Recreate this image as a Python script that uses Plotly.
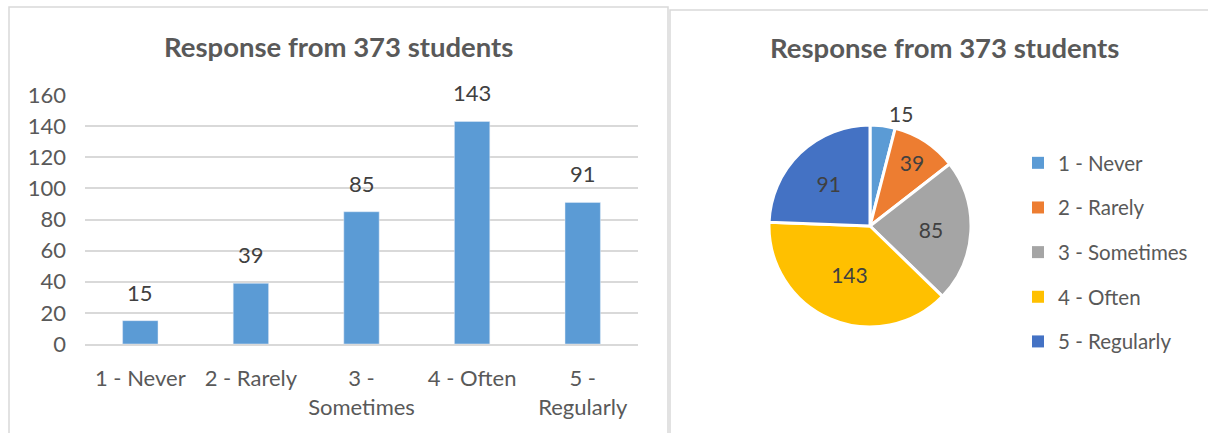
import plotly.graph_objects as go

categories = ["1 - Never", "2 - Rarely", "3 - Sometimes", "4 - Often", "5 - Regularly"]
tick_labels = ["1 - Never", "2 - Rarely", "3 -<br>Sometimes", "4 - Often", "5 -<br>Regularly"]
values = [15, 39, 85, 143, 91]
pie_colors = ["#5B9BD5", "#ED7D31", "#A5A5A5", "#FFC000", "#4472C4"]
bar_color = "#5B9BD5"
title_text = "Response from 373 students"
y_ticks = [0, 20, 40, 60, 80, 100, 120, 140, 160]

W, H = 1208, 433
FONT = "Lato"
TXT = "#595959"

def px(x):
    return x / W

def py(y):
    return 1 - y / H

fig = go.Figure()

fig.add_trace(go.Bar(
    x=categories, y=values, marker_color=bar_color, showlegend=False,
    xaxis="x", yaxis="y", hoverinfo="x+y",
))

for c, v in zip(categories, values):
    fig.add_annotation(x=c, y=v, xref="x", yref="y", text=str(v), showarrow=False,
                       xanchor="center", yanchor="bottom", yshift=13,
                       font=dict(family=FONT, size=22, color="#404040"))

fig.add_trace(go.Pie(
    labels=categories, values=values, sort=False, direction="clockwise", rotation=0,
    marker=dict(colors=pie_colors, line=dict(color="white", width=3)),
    textinfo="value", textposition=["outside", "inside", "inside", "inside", "inside"],
    insidetextorientation="horizontal",
    textfont=dict(family=FONT, size=21, color="#404040"),
    domain=dict(x=[px(768), px(972)], y=[py(327), py(125)]),
    showlegend=False,
))

# legend entries
for c, col in zip(categories, pie_colors):
    fig.add_trace(go.Scatter(
        x=[None], y=[None], mode="markers", name=c, legendgroup=c,
        marker=dict(symbol="square", size=9, color=col),
        xaxis="x", yaxis="y", showlegend=True,
    ))

fig.update_layout(
    width=W, height=H, margin=dict(l=0, r=0, t=0, b=0, autoexpand=False),
    paper_bgcolor="white", plot_bgcolor="white",
    font=dict(family=FONT, color=TXT),
    bargap=0.68,
    xaxis=dict(domain=[px(85), px(638)], tickmode="array", tickvals=categories,
               ticktext=tick_labels, tickfont=dict(size=22, color=TXT), showgrid=False,
               showline=True, linecolor="#D9D9D9", linewidth=1.5, ticks="",
               ticklabelstandoff=14, fixedrange=True, automargin=False),
    yaxis=dict(domain=[py(344), py(95)], range=[0, 160], tickvals=y_ticks,
               tickfont=dict(size=22, color=TXT), showgrid=True, gridcolor="#D9D9D9",
               gridwidth=1.5, zeroline=False, showline=False, ticks="",
               ticklabelstandoff=18, fixedrange=True, automargin=False),
    legend=dict(x=px(1018), y=py(143), xanchor="left", yanchor="top",
                font=dict(family=FONT, size=20.5, color=TXT), traceorder="grouped",
                tracegroupgap=15, itemsizing="constant", bgcolor="rgba(0,0,0,0)"),
    showlegend=True,
)

fig.add_annotation(text="<b>" + title_text + "</b>", x=px(338), y=py(46), xref="paper", yref="paper",
                   xanchor="center", yanchor="middle", showarrow=False,
                   font=dict(family=FONT, size=27.5, color=TXT))
fig.add_annotation(text="<b>" + title_text + "</b>", x=px(944), y=py(48), xref="paper", yref="paper",
                   xanchor="center", yanchor="middle", showarrow=False,
                   font=dict(family=FONT, size=27.5, color=TXT))

# panel borders
fig.add_shape(type="rect", xref="paper", yref="paper", x0=px(9), x1=px(668), y0=py(445), y1=py(7),
              line=dict(color="#D9D9D9", width=1.5), fillcolor="rgba(0,0,0,0)", layer="below")
fig.add_shape(type="rect", xref="paper", yref="paper", x0=px(670), x1=px(1220), y0=py(445), y1=py(10),
              line=dict(color="#D9D9D9", width=1.5), fillcolor="rgba(0,0,0,0)", layer="below")

fig.write_html("out.html", config={"displayModeBar": False},
               post_script="document.body.style.margin='0';document.body.style.overflow='hidden';")
